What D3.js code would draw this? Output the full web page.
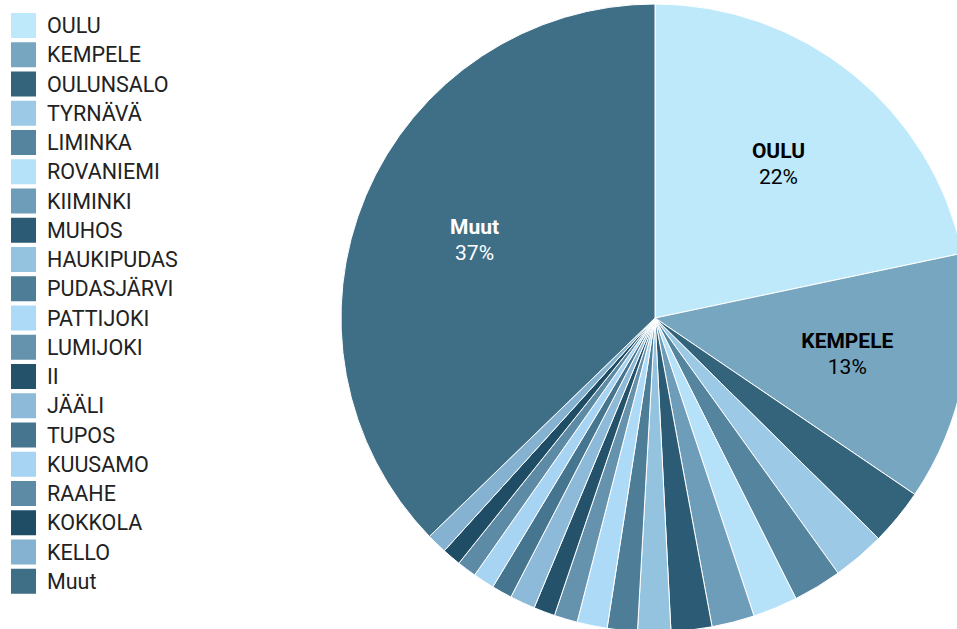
<!DOCTYPE html>
<html>
<head>
<meta charset="utf-8">
<script src="https://cdn.jsdelivr.net/npm/d3@7"></script>
<style>
	body { margin: 0; background: #fff; }
	svg { display: block; font-family: Roboto, "Noto Sans", sans-serif; }
</style>
</head>
<body>
<div id="chart"></div>
<script>
////////////////////////////////////////////////////////////
//////////////////////// Data //////////////////////////////
////////////////////////////////////////////////////////////

var names = ["OULU", "KEMPELE", "OULUNSALO", "TYRNÄVÄ", "LIMINKA", "ROVANIEMI", "KIIMINKI",
	"MUHOS", "HAUKIPUDAS", "PUDASJÄRVI", "PATTIJOKI", "LUMIJOKI", "II", "JÄÄLI", "TUPOS",
	"KUUSAMO", "RAAHE", "KOKKOLA", "KELLO", "Muut"];

//share of total, percent
var shares = [21.7, 12.8, 2.9, 2.7, 2.5, 2.3, 2.2, 2.1, 1.7, 1.55, 1.55, 1.2, 1.1, 1.3, 1.05,
	1.1, 1.0, 0.97, 1.05, 37.25];

var colors = ["#bde9fa", "#77a6c0", "#33647c", "#9ccae6", "#55849e", "#b5e2f8", "#6d9db8",
	"#2c5c75", "#94c3e0", "#4e7d97", "#addbf7", "#6593ae", "#24526b", "#8cbad8", "#46758f",
	"#a6d4f2", "#5d8ba6", "#1f4d66", "#84b2d0", "#3f6e87"];

//only the biggest slices get a label
var labelled = ["OULU", "KEMPELE", "Muut"];

////////////////////////////////////////////////////////////
//////////////////////// Set-up ////////////////////////////
////////////////////////////////////////////////////////////

var width = 957,
	height = 629,
	cx = 655,
	cy = 318,
	radius = 314,
	labelRadius = 196;

var data = names.map(function(d, i) {
	return {name: d, value: shares[i], color: colors[i]};
});

var svg = d3.select("#chart").append("svg")
	.attr("width", width)
	.attr("height", height);

////////////////////////////////////////////////////////////
///////////////////////// Pie //////////////////////////////
////////////////////////////////////////////////////////////

var pie = d3.pie()
	.sort(null)
	.value(function(d) { return d.value; });

var arc = d3.arc()
	.innerRadius(0)
	.outerRadius(radius);

var labelArc = d3.arc()
	.innerRadius(labelRadius)
	.outerRadius(labelRadius);

var total = d3.sum(shares);

var pieG = svg.append("g")
	.attr("transform", "translate(" + cx + "," + cy + ")");

pieG.selectAll(".slice")
	.data(pie(data))
	.enter().append("path")
	  .attr("class", "slice")
	  .attr("d", arc)
	  .style("fill", function(d) { return d.data.color; })
	  .style("stroke", "#fff")
	  .style("stroke-width", 1);

var labels = pieG.selectAll(".sliceLabel")
	.data(pie(data).filter(function(d) { return labelled.indexOf(d.data.name) > -1; }))
	.enter().append("text")
	  .attr("class", "sliceLabel")
	  .attr("transform", function(d) { return "translate(" + labelArc.centroid(d) + ")"; })
	  .style("text-anchor", "middle")
	  .style("font-size", "21px")
	  .style("fill", function(d) { return d3.hsl(d.data.color).l > 0.5 ? "#000" : "#fff"; });

labels.append("tspan")
	.attr("x", 0)
	.attr("y", -8)
	.style("font-weight", "bold")
	.text(function(d) { return d.data.name; });

labels.append("tspan")
	.attr("x", 0)
	.attr("y", 18)
	.text(function(d) { return Math.round(d.data.value / total * 100) + "%"; });

////////////////////////////////////////////////////////////
//////////////////////// Legend ////////////////////////////
////////////////////////////////////////////////////////////

var legend = svg.append("g")
	.attr("class", "legend")
	.attr("transform", "translate(11,13)");

var rows = legend.selectAll(".row")
	.data(data)
	.enter().append("g")
	  .attr("class", "row")
	  .attr("transform", function(d, i) { return "translate(0," + (i * 29.25) + ")"; });

rows.append("rect")
	.attr("width", 25)
	.attr("height", 25)
	.style("fill", function(d) { return d.color; });

rows.append("text")
	.attr("x", 36)
	.attr("y", 12.5)
	.attr("dy", "0.35em")
	.style("font-size", "21.5px")
	.style("fill", "#222")
	.text(function(d) { return d.name; });
</script>
</body>
</html>
